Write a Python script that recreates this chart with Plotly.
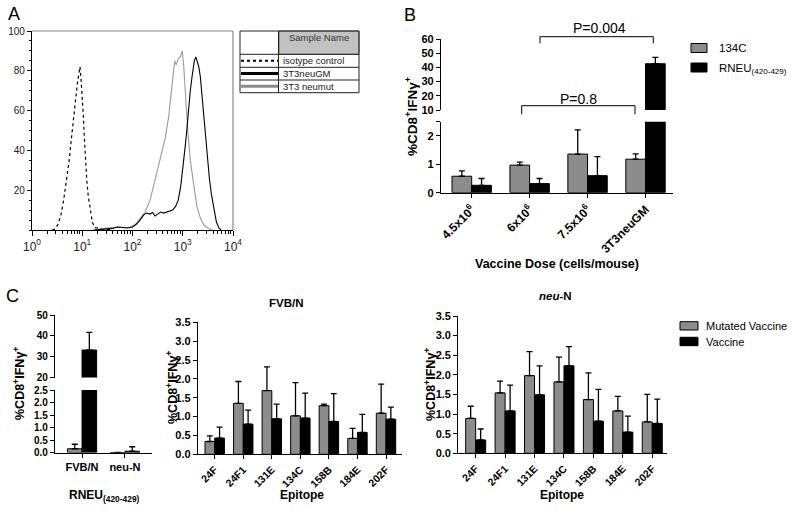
import numpy as np
import plotly.graph_objects as go

W, H = 800, 511
FONT = "Liberation Sans, Arial, sans-serif"
GRAY = "#8c8c8c"


def px(x):
    return x / W


def py(y):
    return 1 - y / H


# ---------------- Panel A : flow histogram (log10 intensity, % of max) -------------
iso_log = [0.40, 0.46, 0.52, 0.58, 0.63, 0.69, 0.74, 0.78, 0.82, 0.86, 0.90, 0.935, 0.955,
           0.975, 1.00, 1.02, 1.045, 1.07, 1.09, 1.12, 1.16, 1.20, 1.25, 1.32, 1.40, 1.50, 1.60]
iso_pct = [0, 0.5, 3, 8, 15, 25, 35, 45, 55, 64, 73, 79, 82,
           76, 67, 58, 45, 33, 25, 17, 9, 4, 1.2, 1.0, 0.8, 0.5, 0]

gm_log = [1.25, 1.35, 1.50, 1.60, 1.70, 1.80, 1.90, 2.00, 2.08, 2.15, 2.22, 2.28, 2.34, 2.40,
          2.45, 2.50, 2.56, 2.62, 2.68, 2.74, 2.80, 2.86, 2.91, 2.96, 3.00, 3.04, 3.08, 3.11,
          3.15, 3.19, 3.23, 3.26, 3.29, 3.32, 3.35, 3.38, 3.41, 3.45, 3.49, 3.53, 3.57, 3.62,
          3.67, 3.72, 3.76]
gm_pct = [0, 0.3, 0.6, 0.8, 1.5, 1.2, 1.0, 1.5, 3, 5, 7.5, 8.5, 8, 8.8,
          7, 8, 9, 8.5, 9, 9.5, 10, 12, 15, 22, 30, 40, 50, 60,
          70, 78, 85, 87, 85, 82, 77, 68, 60, 48, 37, 26, 18, 10,
          4, 1, 0]

mut_log = [1.20, 1.30, 1.45, 1.60, 1.75, 1.85, 1.95, 2.05, 2.15, 2.25, 2.35, 2.45, 2.55, 2.65,
           2.72, 2.77, 2.81, 2.84, 2.87, 2.91, 2.95, 2.99, 3.02, 3.06, 3.10, 3.15, 3.21, 3.28,
           3.35, 3.42, 3.50, 3.58]
mut_pct = [0, 0.5, 0.8, 1.0, 1.5, 1.2, 1.5, 2.5, 5.5, 9, 15, 25, 35, 46,
           57, 70, 80, 85, 83, 86, 87, 90, 82, 65, 50, 35, 25, 12,
           6, 2.5, 1, 0]

a_ticks = [1, 10, 100, 1000, 10000]
a_ticktext = ["10<sup>0</sup>", "10<sup>1</sup>", "10<sup>2</sup>", "10<sup>3</sup>", "10<sup>4</sup>"]
a_legend = ["isotype control", "3T3neuGM", "3T3 neumut"]

# ---------------- Panel B ----------------
doses = ["4.5x10<sup>6</sup>", "6x10<sup>6</sup>", "7.5x10<sup>6</sup>", "3T3neuGM"]
b_134c = [0.58, 0.97, 1.36, 1.18]
b_134c_err = [0.19, 0.11, 0.85, 0.19]
b_rneu = [0.26, 0.32, 0.60, 42.6]
b_rneu_err = [0.24, 0.18, 0.67, 4.5]

# ---------------- Panel C ----------------
strains = ["FVB/N", "neu-N"]
cl_mut = [0.15, 0.0]
cl_mut_err = [0.18, 0.0]
cl_vac = [33.2, 0.05]
cl_vac_err = [8.5, 0.18]

epitopes = ["24F", "24F1", "131E", "134C", "158B", "184E", "202F"]
fvb_mut = [0.34, 1.35, 1.69, 1.02, 1.29, 0.42, 1.09]
fvb_mut_err = [0.15, 0.58, 0.63, 0.88, 0.04, 0.27, 0.77]
fvb_vac = [0.43, 0.80, 0.94, 0.96, 0.87, 0.58, 0.93]
fvb_vac_err = [0.29, 0.37, 0.39, 0.66, 0.74, 0.48, 0.32]

neu_mut = [0.89, 1.54, 1.98, 1.82, 1.37, 1.08, 0.80]
neu_mut_err = [0.31, 0.30, 0.61, 0.63, 0.68, 0.37, 0.70]
neu_vac = [0.34, 1.08, 1.49, 2.23, 0.82, 0.54, 0.76]
neu_vac_err = [0.28, 0.66, 0.74, 0.49, 0.81, 0.41, 0.62]

fig = go.Figure()

# Panel A traces
fig.add_trace(go.Scatter(x=np.power(10, iso_log), y=iso_pct, mode="lines",
                         line=dict(color="black", width=1.2, dash="dot"), xaxis="x", yaxis="y"))
fig.add_trace(go.Scatter(x=np.power(10, mut_log), y=mut_pct, mode="lines",
                         line=dict(color="#9a9a9a", width=1.1), xaxis="x", yaxis="y"))
fig.add_trace(go.Scatter(x=np.power(10, gm_log), y=gm_pct, mode="lines",
                         line=dict(color="black", width=1.1), xaxis="x", yaxis="y"))


def bars(cats, vals, errs, color, xa, ya):
    fig.add_trace(go.Bar(
        x=cats, y=vals, marker=dict(color=color, line=dict(color="black", width=1)),
        error_y=dict(type="data", array=errs, arrayminus=[0] * len(errs), symmetric=False,
                     color="black", thickness=1.3, width=3),
        xaxis=xa, yaxis=ya))


# Panel B (broken axis: lower y2, upper y3)
for ya in ("y2", "y3"):
    bars(doses, b_134c, b_134c_err, GRAY, "x2", ya)
    bars(doses, b_rneu, b_rneu_err, "black", "x2", ya)

# Panel C left (broken axis: lower y4, upper y5)
for ya in ("y4", "y5"):
    bars(strains, cl_mut, cl_mut_err, GRAY, "x3", ya)
    bars(strains, cl_vac, cl_vac_err, "black", "x3", ya)

bars(epitopes, fvb_mut, fvb_mut_err, GRAY, "x4", "y6")
bars(epitopes, fvb_vac, fvb_vac_err, "black", "x4", "y6")
bars(epitopes, neu_mut, neu_mut_err, GRAY, "x5", "y7")
bars(epitopes, neu_vac, neu_vac_err, "black", "x5", "y7")

ybold = dict(family=FONT, size=11, color="black", weight="bold")
xbold = dict(family=FONT, size=11, color="black", weight="bold")
cbold = dict(family=FONT, size=10.5, color="black", weight="bold")
common = dict(showline=True, linecolor="black", linewidth=1.3, ticks="outside", ticklen=4,
              tickwidth=1.3, tickcolor="black", showgrid=False, zeroline=False, automargin=False)

layout = dict(
    width=W, height=H, margin=dict(l=0, r=0, t=0, b=0), showlegend=False,
    plot_bgcolor="white", paper_bgcolor="white", barmode="group", bargap=0.32, bargroupgap=0,
    font=dict(family=FONT, color="black"),
    xaxis=dict(common, type="log", range=[0, 4], domain=[px(32), px(233)], anchor="y",
               tickvals=a_ticks, ticktext=a_ticktext, ticklen=5, linewidth=1.2,
               tickfont=dict(family=FONT, size=12, color="#222"),
               minor=dict(ticks="outside", ticklen=3, dtick="D1", tickcolor="black", showgrid=False)),
    yaxis=dict(common, range=[0, 100], domain=[py(230), py(31)], anchor="x",
               tickvals=[20, 40, 60, 80, 100], ticklen=4, linewidth=1.2,
               tickfont=dict(family=FONT, size=10, color="#222"),
               minor=dict(ticks="outside", ticklen=2, dtick=5, tickcolor="black", showgrid=False)),
    xaxis2=dict(common, type="category", range=[-0.53, 3.48], domain=[px(441), px(673.3)],
                anchor="y2", tickangle=-45, tickfont=dict(xbold, size=12)),
    yaxis2=dict(common, range=[0, 2.5], domain=[py(192.7), py(121.7)], anchor="x2",
                tickvals=[0, 1, 2, 2.5], ticktext=["0", "1", "2", ""], tickfont=ybold),
    yaxis3=dict(common, range=[10, 60], domain=[py(110), py(39)], anchor="x2",
                tickvals=[10, 20, 30, 40, 50, 60], tickfont=ybold),
    xaxis3=dict(common, type="category", range=[-0.63, 1.63], domain=[px(55), px(152)],
                anchor="y4", tickangle=0, tickfont=xbold),
    yaxis4=dict(common, range=[0, 2.5], domain=[py(452.5), py(390)], anchor="x3",
                dtick=0.5, tickformat=".1f", tickfont=dict(ybold, size=10)),
    yaxis5=dict(common, range=[20, 50], domain=[py(377.5), py(315)], anchor="x3",
                dtick=10, tickfont=dict(ybold, size=10)),
    xaxis4=dict(common, type="category", range=[-0.585, 6.56], domain=[px(198), px(402)],
                anchor="y6", tickangle=-45, tickfont=cbold),
    yaxis6=dict(common, range=[0, 3.5], domain=[py(454.3), py(322.3)], anchor="x4",
                dtick=0.5, tickformat=".1f", tickfont=ybold),
    xaxis5=dict(common, type="category", range=[-0.59, 6.51], domain=[px(458.3), px(667.3)],
                anchor="y7", tickangle=-45, tickfont=cbold),
    yaxis7=dict(common, range=[0, 3.5], domain=[py(453.3), py(316)], anchor="x5",
                dtick=0.5, tickformat=".1f", tickfont=ybold),
)
fig.update_layout(**layout)

anns = []


def ann(text, x, y, size=11, weight="normal", angle=0, xanchor="center", yanchor="middle",
        color="black"):
    anns.append(dict(text=text, x=px(x), y=py(y), xref="paper", yref="paper", showarrow=False,
                     font=dict(size=size, family=FONT, color=color, weight=weight),
                     textangle=angle, xanchor=xanchor, yanchor=yanchor))


shapes = []


def line(x0, y0, x1, y1, color="black", width=1, dash="solid"):
    shapes.append(dict(type="line", xref="paper", yref="paper", x0=px(x0), y0=py(y0),
                       x1=px(x1), y1=py(y1), line=dict(color=color, width=width, dash=dash)))


def rect(x0, y0, x1, y1, fill, lc="black", lw=1):
    shapes.append(dict(type="rect", xref="paper", yref="paper", x0=px(x0), y0=py(y0),
                       x1=px(x1), y1=py(y1), fillcolor=fill, line=dict(color=lc, width=lw)))


# Panel letters
ann("A", 14, 14, size=18)
ann("B", 410, 15, size=18)
ann("C", 12, 296, size=18)

# Panel A frame top/right
line(32, 31, 233, 31, color="#888", width=1.2)
line(233, 31, 233, 230, color="#888", width=1.2)

# Panel A legend table
rect(279, 31, 359, 54.3, "#c2c2c2", lc="#666", lw=1)
rect(240, 31, 359, 92.7, "rgba(0,0,0,0)", lc="#222", lw=1)
line(278.5, 31, 278.5, 92.7, color="#222")
for yy in (54.3, 67.3, 80):
    line(240, yy, 359, yy, color="#222")
line(241, 60.8, 278, 60.8, color="black", width=2, dash="dot")
line(241, 73.6, 278, 73.6, color="black", width=3)
line(241, 86.3, 278, 86.3, color="#8a8a8a", width=3)
ann("Sample Name", 318.5, 37.5, size=9.5, color="#333")
ann(a_legend[0], 281, 60.8, size=9.5, xanchor="left", color="#222")
ann(a_legend[1], 281, 73.6, size=9.5, xanchor="left", color="#222")
ann(a_legend[2], 281, 86.3, size=9.5, xanchor="left", color="#222")

# Panel B titles / legend / brackets
ytitle = "%CD8<sup>+</sup>IFNγ<sup>+</sup>"
ann(ytitle, 411, 116, size=13.5, weight="bold", angle=-90)
ann("Vaccine Dose (cells/mouse)", 557, 264, size=12.5, weight="bold")
rect(691, 43.5, 707, 52.5, GRAY)
rect(691, 63, 707, 72, "black")
ann("134C", 717, 48, size=11.5, xanchor="left")
ann("RNEU<sub>(420-429)</sub>", 717, 69, size=11.5, xanchor="left")
for (x0, x1, ytop, ybot) in [(540, 653.3, 36.7, 43.3), (521.7, 635, 105.7, 114.3)]:
    line(x0, ybot, x0, ytop)
    line(x0, ytop, x1, ytop)
    line(x1, ytop, x1, ybot)
ann("P=0.004", 599.5, 28.5, size=14)
ann("P=0.8", 578, 99, size=14)

# Panel C titles / legend
ann(ytitle, 19, 384, size=12.5, weight="bold", angle=-90)
ann(ytitle, 172, 388, size=12.5, weight="bold", angle=-90)
ann(ytitle, 430, 385, size=12.5, weight="bold", angle=-90)
ann("RNEU<sub>(420-429)</sub>", 104, 496, size=12, weight="bold")
ann("Epitope", 301.7, 495, size=12, weight="bold")
ann("Epitope", 561.7, 495, size=12, weight="bold")
ann("FVB/N", 286.7, 302.7, size=11.5, weight="bold")
ann("<i>neu</i>-N", 555, 296, size=11.5, weight="bold")
rect(680, 321.7, 698, 330, GRAY)
rect(680, 337.3, 698, 345.7, "black")
ann("Mutated Vaccine", 704, 326, size=11, xanchor="left")
ann("Vaccine", 704, 341.7, size=11, xanchor="left")

fig.update_layout(annotations=anns, shapes=shapes)
fig.write_html("out.html", config={"displayModeBar": False},
               post_script="document.body.style.margin='0px';")
